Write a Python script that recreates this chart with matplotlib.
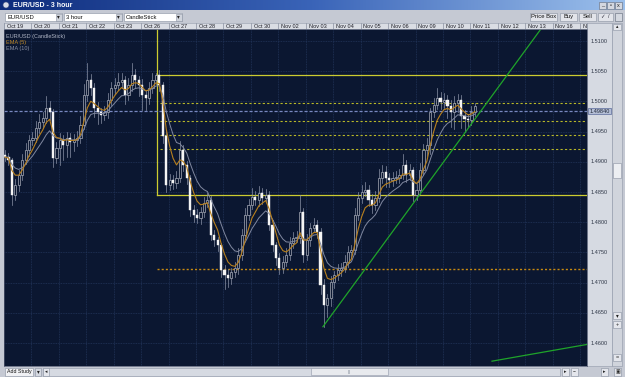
import matplotlib
matplotlib.use('Agg')
import matplotlib.pyplot as plt
from matplotlib.patches import Rectangle
from matplotlib.colors import LinearSegmentedColormap
import numpy as np
import pandas as pd

plt.rcParams['font.family'] = ['Liberation Sans', 'DejaVu Sans']

W, H = 625, 377

days = ['Oct 19', 'Oct 20', 'Oct 21', 'Oct 22', 'Oct 23', 'Oct 26', 'Oct 27', 'Oct 28', 'Oct 29', 'Oct 30',
        'Nov 02', 'Nov 03', 'Nov 04', 'Nov 05', 'Nov 06', 'Nov 09', 'Nov 10', 'Nov 11', 'Nov 12', 'Nov 13',
        'Nov 16', 'N']
bars_per_day = 8

# 3-hour closes
first_open = 1.4912
closes = [1.4908, 1.4903, 1.4845, 1.4862, 1.4878, 1.4903, 1.4920, 1.4936, 1.4939, 1.4956,
          1.4966, 1.4972, 1.4989, 1.4982, 1.4906, 1.4923, 1.4936, 1.4928, 1.4939, 1.4933,
          1.4936, 1.4939, 1.4961, 1.5011, 1.5035, 1.5022, 1.4989, 1.4982, 1.4977, 1.4982,
          1.5002, 1.5022, 1.5027, 1.5032, 1.5035, 1.5011, 1.5027, 1.5044, 1.5035, 1.5027,
          1.5011, 1.5006, 1.5022, 1.5035, 1.5044, 1.5027, 1.4943, 1.4862, 1.4870, 1.4865,
          1.4873, 1.4920, 1.4895, 1.4873, 1.4820, 1.4812, 1.4807, 1.4817, 1.4832, 1.4837,
          1.4779, 1.4770, 1.4762, 1.4721, 1.4712, 1.4708, 1.4717, 1.4724, 1.4746, 1.4779,
          1.4812, 1.4828, 1.4842, 1.4837, 1.4848, 1.4840, 1.4845, 1.4795, 1.4762, 1.4741,
          1.4724, 1.4734, 1.4746, 1.4765, 1.4774, 1.4774, 1.4817, 1.4746, 1.4770, 1.4790,
          1.4795, 1.4784, 1.4696, 1.4663, 1.4674, 1.4701, 1.4712, 1.4721, 1.4724, 1.4734,
          1.4751, 1.4754, 1.4812, 1.4840, 1.4850, 1.4853, 1.4837, 1.4828, 1.4840, 1.4873,
          1.4883, 1.4873, 1.4870, 1.4873, 1.4873, 1.4878, 1.4895, 1.4878, 1.4886, 1.4845,
          1.4853, 1.4886, 1.4920, 1.4928, 1.4982, 1.4994, 1.5006, 1.4999, 1.5002, 1.4992,
          1.4982, 1.4997, 1.5002, 1.4976, 1.4971, 1.4969, 1.4982, 1.4992]
# wick lengths beyond the body, in pips
wick_up = [8, 6, 4, 10, 8, 10, 12, 8, 10, 12, 14, 10, 20, 12, 6, 10, 12, 8, 10, 8,
           10, 12, 15, 18, 28, 10, 8, 10, 8, 10, 12, 10, 12, 15, 12, 8, 12, 20, 10, 8,
           10, 8, 10, 12, 3, 8, 6, 8, 10, 8, 12, 14, 8, 6, 6, 8, 10, 8, 10, 12,
           6, 8, 6, 4, 8, 10, 8, 10, 12, 10, 12, 10, 14, 10, 12, 8, 10, 6, 8, 6,
           8, 10, 12, 10, 10, 12, 28, 6, 10, 8, 12, 8, 6, 10, 8, 10, 8, 10, 8, 12,
           10, 8, 12, 10, 12, 14, 8, 10, 12, 15, 12, 10, 8, 10, 12, 10, 18, 8, 10, 6,
           10, 12, 10, 12, 8, 12, 17, 10, 12, 8, 10, 12, 10, 8, 10, 8, 10, 6]
wick_dn = [6, 8, 17, 8, 10, 8, 6, 10, 8, 6, 8, 10, 8, 12, 14, 8, 28, 25, 20, 25,
           15, 10, 8, 6, 10, 12, 15, 20, 12, 8, 10, 8, 10, 8, 10, 15, 8, 10, 12, 18,
           25, 20, 10, 8, 6, 10, 12, 12, 8, 10, 8, 6, 10, 10, 10, 12, 8, 10, 8, 6,
           8, 10, 10, 12, 23, 15, 10, 8, 10, 8, 6, 8, 6, 8, 10, 10, 6, 8, 10, 12,
           10, 8, 6, 8, 8, 6, 8, 12, 8, 10, 6, 10, 14, 36, 20, 12, 10, 8, 10, 6,
           8, 10, 6, 8, 8, 6, 10, 12, 8, 6, 8, 15, 12, 10, 8, 8, 6, 12, 8, 10,
           8, 6, 8, 10, 15, 8, 6, 12, 10, 20, 25, 28, 15, 20, 22, 12, 8, 6]

price_ticks = [1.5100, 1.5050, 1.5000, 1.4950, 1.4900, 1.4850, 1.4800, 1.4750, 1.4700, 1.4650, 1.4600]
price_range = (1.4562, 1.5120)
last_price = 1.4984
swing_bar = 44.3
fib_box = (1.5044, 1.4845)
fib_levels = [1.4997, 1.4968, 1.4944, 1.4921]
support_level = 1.4723
trend_main_x, trend_main_y = [92.7, 156.0], [1.4627, 1.5118]
trend_low_x, trend_low_y = [142.0, 170.0], [1.4570, 1.4598]

BG = '#0b1731'
GRID = '#22345a'
UI = '#c5c9d3'
YEL = '#cccc30'

fig = plt.figure(figsize=(6.25, 3.77), dpi=100, facecolor=UI)


def px(x0, y0, x1, y1):
    return [x0 / W, 1 - y1 / H, (x1 - x0) / W, (y1 - y0) / H]


def box(ax, x0, y0, x1, y1, fc, ec=None, lw=0.5, z=2):
    ax.add_patch(Rectangle((x0, y0), x1 - x0, y1 - y0, facecolor=fc,
                           edgecolor=ec if ec else fc, linewidth=lw, zorder=z))


# ---- window chrome ----
ui = fig.add_axes([0, 0, 1, 1], zorder=0)
ui.axis('off')
cmap = LinearSegmentedColormap.from_list('title', ['#0e2c7c', '#3a64b8', '#9cc0ec'])
ui.imshow(np.linspace(0, 1, 256)[None, :], extent=[0, W, 10, 0], cmap=cmap, aspect='auto', zorder=1)
ui.set_xlim(0, W)
ui.set_ylim(H, 0)
ui.add_patch(plt.Circle((6, 5), 3, facecolor='#d8dce8', edgecolor='#405080', lw=0.4, zorder=3))
ui.text(13, 5.3, 'EUR/USD - 3 hour', color='white', fontsize=5, fontweight='bold', va='center', zorder=3)
for bx, g in zip([599, 607, 615], ['_', '\u25ab', 'x']):
    box(ui, bx, 1.5, bx + 7, 8.5, '#d4d8e0', '#606878', 0.4, 3)
    ui.text(bx + 3.5, 5.2, g, fontsize=4, ha='center', va='center', color='#202020', zorder=4)

for x0, x1, label in [(5, 62, 'EUR/USD'), (64, 122, '3 hour'), (124, 182, 'CandleStick')]:
    box(ui, x0, 13, x1, 21, 'white', '#8890a0', 0.4)
    box(ui, x1 - 6, 13.5, x1 - 0.5, 20.5, '#d0d4dc', '#8890a0', 0.4, 3)
    ui.text(x1 - 3.2, 17, '\u25be', fontsize=4, ha='center', va='center', color='#202020', zorder=4)
    ui.text(x0 + 2, 17.2, label, fontsize=4.2, va='center', color='#101010', zorder=4)
for x0, x1, label in [(530, 557, 'Price Box'), (560, 577, 'Buy'), (579, 596, 'Sell')]:
    box(ui, x0, 12.5, x1, 20.5, '#e2e4ea', '#8890a0', 0.4)
    ui.text((x0 + x1) / 2, 16.7, label, fontsize=4.2, ha='center', va='center', color='#101010', zorder=4)
box(ui, 598, 12.5, 613, 20.5, '#e2e4ea', '#8890a0', 0.4)
ui.text(602, 16.7, '\u2713', fontsize=4, ha='center', va='center', color='#303040', zorder=4)
ui.text(609, 16.7, '/', fontsize=4, ha='center', va='center', color='#303040', zorder=4)
box(ui, 615, 12.5, 622, 20.5, '#d4d8e0', '#606878', 0.4)

# price panel and vertical scrollbar
box(ui, 587, 23, 612, 366, '#d6dae2', '#9098a8', 0.4)
box(ui, 612, 23, 622, 366, '#d0d4dc', '#9098a8', 0.4)
box(ui, 613, 23.5, 621, 30, '#e4e6ec', '#8890a0', 0.4, 3)
ui.text(617, 26.8, '\u25b4', fontsize=3.5, ha='center', va='center', color='#202020', zorder=4)
box(ui, 613, 163, 621, 178, '#eceef2', '#8890a0', 0.4, 3)
for by, g in [(312, '\u25be'), (321, '+'), (354, '=')]:
    box(ui, 613, by, 621, by + 7, '#e4e6ec', '#8890a0', 0.4, 3)
    ui.text(617, by + 3.6, g, fontsize=4, ha='center', va='center', color='#202020', zorder=4)

# bottom bar
box(ui, 5, 367.5, 33, 375.5, '#f0f1f4', '#8890a0', 0.4)
ui.text(19, 371.7, 'Add Study', fontsize=3.8, ha='center', va='center', color='#101010', zorder=4)
box(ui, 35, 367.5, 41, 375.5, '#d4d8e0', '#8890a0', 0.4)
ui.text(38, 371.5, '\u25be', fontsize=4, ha='center', va='center', color='#202020', zorder=4)
box(ui, 43, 367.5, 560, 375.5, '#d6dae2', '#9098a8', 0.4)
box(ui, 43, 367.5, 49, 375.5, '#e4e6ec', '#8890a0', 0.4, 3)
ui.text(46, 371.5, '\u25c2', fontsize=3.5, ha='center', va='center', color='#202020', zorder=4)
box(ui, 311, 368, 388, 375, '#e8eaee', '#9098a8', 0.4, 3)
ui.text(349.5, 371.5, '|||', fontsize=3, ha='center', va='center', color='#707888', zorder=4)
for bx, g in [(562, '\u25b8'), (571, '\u2212'), (601, '\u25b8'), (614, '\u25a3')]:
    box(ui, bx, 367.5, bx + 7, 375.5, '#e4e6ec', '#8890a0', 0.4, 3)
    ui.text(bx + 3.5, 371.5, g, fontsize=3.5, ha='center', va='center', color='#202020', zorder=4)

# ---- price chart ----
ax = fig.add_axes(px(4, 29, 587, 366), zorder=2)
ax.set_facecolor(BG)
n = len(closes)
xs = np.arange(n)
xlim = (-0.3, 169.7)
ax.set_xlim(*xlim)
ax.set_ylim(*price_range)
for s in ax.spines.values():
    s.set_color('#505870')
    s.set_linewidth(0.5)
ax.set_xticks([])
ax.set_yticks([])

day_edges = [d * bars_per_day - 0.3 for d in range(len(days))]
for e in day_edges[1:]:
    ax.axvline(e, color=GRID, lw=0.6, ls=(0, (1, 1)), zorder=0)
for p in price_ticks:
    ax.axhline(p, color=GRID, lw=0.6, ls=(0, (1, 1)), zorder=0)

# fib box, levels and support
ax.plot([swing_bar, swing_bar], [price_range[1], fib_box[1]], color=YEL, lw=0.9, zorder=1)
for p in fib_box:
    ax.plot([swing_bar, xlim[1]], [p, p], color=YEL, lw=0.9, zorder=1)
for p in fib_levels:
    ax.plot([swing_bar + 0.9, xlim[1]], [p, p], color='#b8b828', lw=0.8, ls=(0, (2, 2)), zorder=1)
ax.plot([swing_bar, xlim[1]], [support_level, support_level], color='#c88a10', lw=1.0,
        ls=(0, (1.5, 1.5)), zorder=1)
ax.axhline(last_price, color='#7888c0', lw=0.9, ls=(0, (2.5, 1.5)), zorder=1)

# candles
opens = [first_open] + closes[:-1]
for i in range(n):
    o, c = opens[i], closes[i]
    hi = max(o, c) + wick_up[i] * 0.0001
    lo = min(o, c) - wick_dn[i] * 0.0001
    ax.plot([i, i], [lo, hi], color='#8a92a6', lw=0.5, zorder=3)
    body = max(abs(c - o), 0.00015)
    if c < o:
        ax.add_patch(Rectangle((i - 0.32, c), 0.64, body, facecolor='#f4f4f4', edgecolor='#f4f4f4',
                               lw=0.3, zorder=4))
    else:
        ax.add_patch(Rectangle((i - 0.32, o), 0.64, body, facecolor=BG, edgecolor='#a8acb8',
                               lw=0.5, zorder=4))

close_s = pd.Series(closes)
ema5 = close_s.ewm(span=5, adjust=False).mean()
ema10 = close_s.ewm(span=10, adjust=False).mean()
ax.plot(xs, ema10, color='#8088a0', lw=0.7, zorder=5)
ax.plot(xs, ema5, color='#b8801e', lw=0.8, zorder=5)

ax.plot(trend_main_x, trend_main_y, color='#1fa42a', lw=0.9, zorder=6, clip_on=True)
ax.plot(trend_low_x, trend_low_y, color='#1fa42a', lw=0.9, zorder=6, clip_on=True)

ax.text(0.004, 0.985, 'EUR/USD (CandleStick)', transform=ax.transAxes, fontsize=4, color='#b0b6c6',
        va='top', zorder=7)
ax.text(0.004, 0.968, 'EMA (5)', transform=ax.transAxes, fontsize=4, color='#c08a2a', va='top', zorder=7)
ax.text(0.004, 0.951, 'EMA (10)', transform=ax.transAxes, fontsize=4, color='#8a90a4', va='top', zorder=7)

# date header
dh = fig.add_axes(px(4, 23, 587, 29), zorder=2)
dh.set_facecolor('#dadde4')
dh.set_xlim(*xlim)
dh.set_ylim(0, 1)
dh.set_xticks([])
dh.set_yticks([])
for s in dh.spines.values():
    s.set_color('#9098a8')
    s.set_linewidth(0.4)
for e, lab in zip(day_edges, days):
    dh.axvline(e, color='#8a90a0', lw=0.5)
    dh.text(e + 0.8, 0.45, lab, fontsize=4, va='center', color='#202028', clip_on=True)

# price axis labels
pa = fig.add_axes(px(587, 29, 612, 366), zorder=2)
pa.set_xlim(0, 1)
pa.set_ylim(*price_range)
pa.axis('off')
for p in price_ticks:
    pa.text(0.5, p, f'{p:.4f}', fontsize=4, ha='center', va='center', color='#303848')
pa.add_patch(Rectangle((0.03, last_price - 0.00052), 0.94, 0.00104, facecolor='#b4bed6',
                       edgecolor='#5a6a9a', lw=0.5))
pa.text(0.5, last_price, f'{last_price:.5f}', fontsize=4, ha='center', va='center', color='#202838')

fig.savefig('out.png', dpi=100, facecolor=UI)
